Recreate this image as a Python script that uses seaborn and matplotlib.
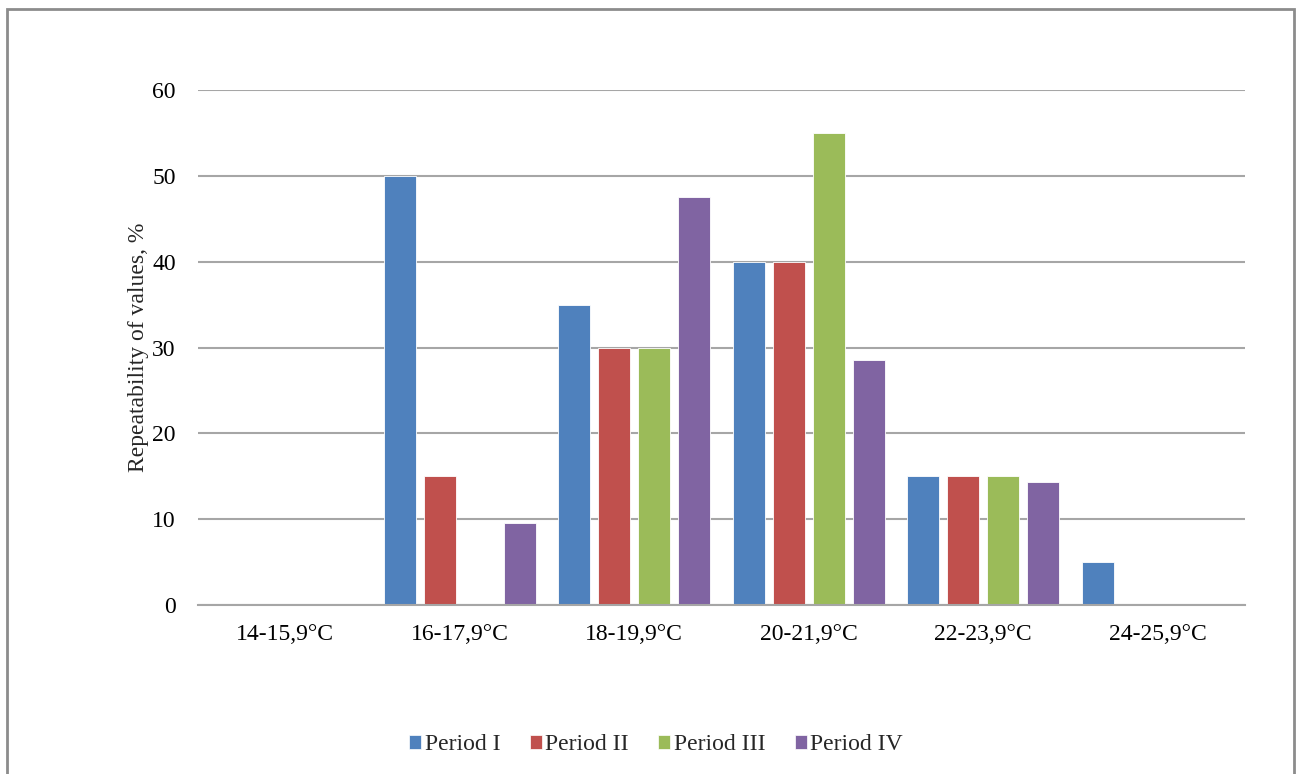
import matplotlib
matplotlib.use("Agg")
import matplotlib.pyplot as plt
from matplotlib.patches import Rectangle
import pandas as pd
import seaborn as sns

# Temperature classes on the x axis
categories = ["14-15,9°C", "16-17,9°C", "18-19,9°C", "20-21,9°C", "22-23,9°C", "24-25,9°C"]
periods = ["Period I", "Period II", "Period III", "Period IV"]

# Repeatability of values (%) for each period, per temperature class
period_1 = [0, 50, 35, 40, 15, 5]
period_2 = [0, 15, 30, 40, 15, 0]
period_3 = [0, 0, 30, 55, 15, 0]
period_4 = [0, 9.5, 47.5, 28.5, 14.3, 0]

y_ticks = [0, 10, 20, 30, 40, 50, 60]
colors = ["#4F81BD", "#C0504D", "#9BBB59", "#8064A2"]

rows = []
for name, vals in zip(periods, [period_1, period_2, period_3, period_4]):
    for cat, v in zip(categories, vals):
        rows.append({"Temperature": cat, "Period": name, "Value": v})
df = pd.DataFrame(rows)

sns.set_theme(style="white")
plt.rcParams["font.family"] = ["Liberation Serif", "DejaVu Serif"]
FS = 17

W, H = 1296, 774
fig = plt.figure(figsize=(W / 100, H / 100), dpi=100)
ax = fig.add_axes([198 / W, (H - 605) / H, (1245 - 198) / W, (605 - 90) / H])

sns.barplot(
    data=df, x="Temperature", y="Value", hue="Period",
    order=categories, hue_order=periods, palette=colors,
    width=0.917, gap=0.2, ax=ax, legend=False,
    edgecolor="white", linewidth=0.6, saturation=1,
)

ax.set_ylim(0, 60)
ax.set_yticks(y_ticks)
ax.set_xlim(-0.5, len(categories) - 0.5)
ax.yaxis.grid(True, color="#A6A6A6", linewidth=1.5)
ax.set_axisbelow(True)
for side in ["top", "right", "left"]:
    ax.spines[side].set_visible(False)
ax.spines["bottom"].set_color("#A6A6A6")
ax.spines["bottom"].set_linewidth(1.5)
ax.tick_params(axis="both", length=0, labelsize=FS, colors="black")
ax.tick_params(axis="x", pad=14)
ax.tick_params(axis="y", pad=16)
ax.set_xlabel("")
ax.set_ylabel("Repeatability of values, %", fontsize=FS, labelpad=2)

handles = [Rectangle((0, 0), 1, 1, facecolor=c, edgecolor="white", linewidth=0.5) for c in colors]
fig.legend(
    handles, periods, loc="center", bbox_to_anchor=(656 / W, 1 - 745 / H),
    ncol=4, frameon=False, fontsize=FS, handlelength=0.5, handleheight=0.5,
    handletextpad=0.15, columnspacing=1.25,
)

# Outer chart border
fig.add_artist(Rectangle((7 / W, -0.02), (1294 - 7) / W, (H - 9) / H + 0.02,
                         transform=fig.transFigure, fill=False,
                         edgecolor="#8C8C8C", linewidth=2))

fig.savefig("out.png", dpi=100)
